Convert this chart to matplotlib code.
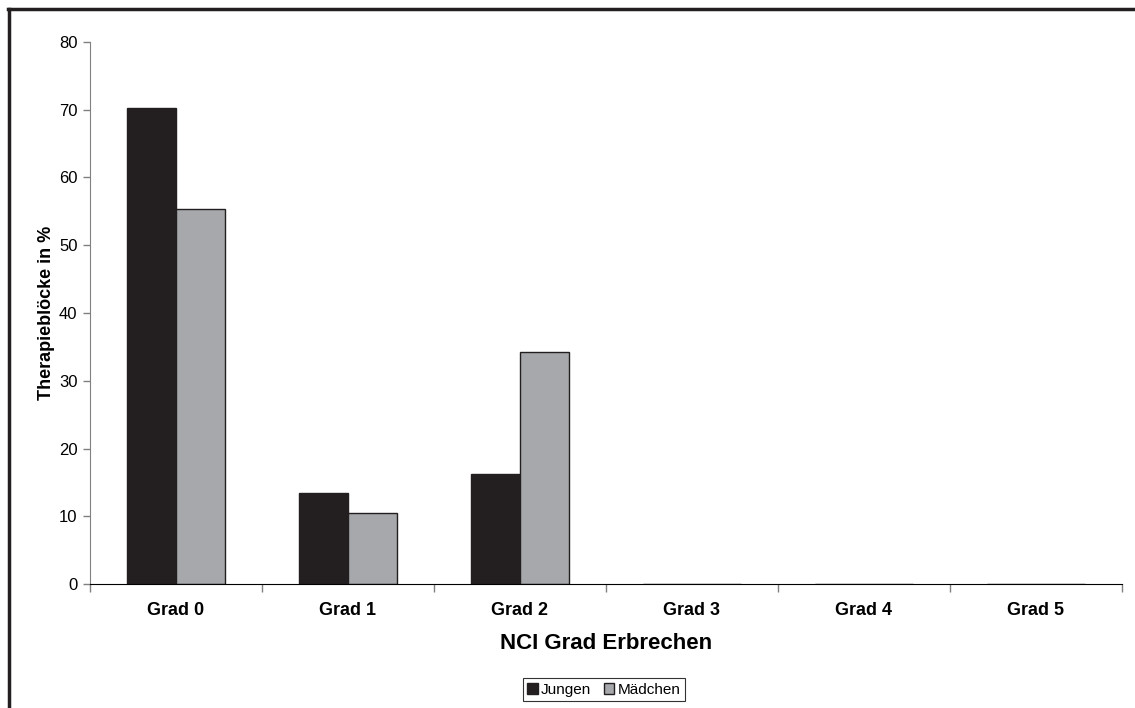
import numpy as np
import matplotlib
matplotlib.use('Agg')
import matplotlib.pyplot as plt
from matplotlib.lines import Line2D

plt.rcParams['font.family'] = ['Liberation Sans', 'DejaVu Sans']

# data
categories = ['Grad 0', 'Grad 1', 'Grad 2', 'Grad 3', 'Grad 4', 'Grad 5']
jungen = [70.3, 13.5, 16.2, 0, 0, 0]
maedchen = [55.3, 10.5, 34.2, 0, 0, 0]
yticks = [0, 10, 20, 30, 40, 50, 60, 70, 80]

fig = plt.figure(figsize=(11.35, 7.08), dpi=100)
ax = fig.add_axes([0.0793, 0.1751, 0.9092, 0.7656])

x = np.arange(len(categories))
w = 2 / 3.5
ax.bar(x - w / 4, jungen, w / 2, color='#231f20', edgecolor='#231f20', linewidth=1, label='Jungen')
ax.bar(x + w / 4, maedchen, w / 2, color='#a6a8ab', edgecolor='#231f20', linewidth=1, label='Mädchen')

ax.set_xlim(-0.5, 5.5)
ax.set_ylim(0, 80)
ax.set_yticks(yticks)
ax.tick_params(axis='y', labelsize=12, length=5, color='#808080', width=1, pad=4)

# category labels centered, ticks at category boundaries
ax.set_xticks(x)
ax.set_xticklabels(categories, fontsize=13, fontweight='bold')
ax.tick_params(axis='x', length=0, pad=13)
ax.set_xticks(np.arange(-0.5, 6, 1), minor=True)
ax.tick_params(axis='x', which='minor', length=6, color='#808080', width=1)

for s in ['top', 'right']:
    ax.spines[s].set_visible(False)
ax.spines['left'].set_color('#808080')
ax.spines['bottom'].set_color('#000000')

ax.set_xlabel('NCI Grad Erbrechen', fontsize=16, fontweight='bold', labelpad=10)
ax.set_ylabel('Therapieblöcke in %', fontsize=13, fontweight='bold', labelpad=3)

leg = fig.legend(loc='center', bbox_to_anchor=(0.532, 0.026), ncol=2, fontsize=11,
                 frameon=True, fancybox=False, edgecolor='#000000',
                 handlelength=0.7, handleheight=0.7, handletextpad=0.2,
                 columnspacing=0.8, borderpad=0.3, borderaxespad=0)
leg.get_frame().set_linewidth(0.8)

# outer frame (top and left edges visible)
fig.add_artist(Line2D([8 / 1135, 1], [1 - 9 / 708, 1 - 9 / 708], color='#231f20', lw=2.5,
                      solid_capstyle='projecting', transform=fig.transFigure))
fig.add_artist(Line2D([9 / 1135, 9 / 1135], [0, 1 - 9 / 708], color='#231f20', lw=2.5,
                      solid_capstyle='projecting', transform=fig.transFigure))

fig.savefig('out.png', dpi=100)
